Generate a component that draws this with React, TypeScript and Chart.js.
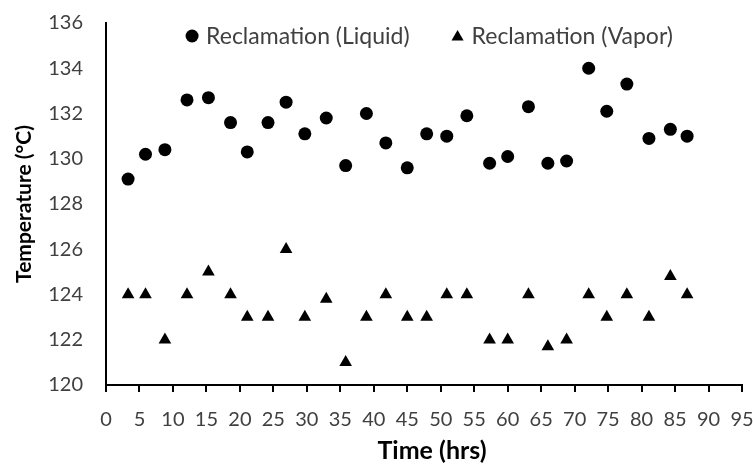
import React, { useEffect, useRef } from "react";
import { Chart, registerables } from "chart.js";

Chart.register(...registerables);

const timeHrs = [3.3, 5.9, 8.8, 12.1, 15.3, 18.6, 21.1, 24.2, 26.9, 29.7, 32.9, 35.8, 38.9, 41.8, 45.0, 47.9, 50.9, 53.9, 57.3, 60.0, 63.1, 66.0, 68.8, 72.1, 74.8, 77.8, 81.1, 84.3, 86.8];
const liquidTemp = [129.1, 130.2, 130.4, 132.6, 132.7, 131.6, 130.3, 131.6, 132.5, 131.1, 131.8, 129.7, 132.0, 130.7, 129.6, 131.1, 131.0, 131.9, 129.8, 130.1, 132.3, 129.8, 129.9, 134.0, 132.1, 133.3, 130.9, 131.3, 131.0];
const vaporTemp = [124, 124, 122, 124, 125, 124, 123, 123, 126, 123, 123.8, 121, 123, 124, 123, 123, 124, 124, 122, 122, 124, 121.7, 122, 124, 123, 124, 123, 124.8, 124];
const xTitle = "Time (hrs)";
const yTitle = "Temperature (°C)";

const FONT = "Lato, 'Open Sans', sans-serif";

function drawMarker(ctx: CanvasRenderingContext2D, style: string, cx: number, cy: number) {
  ctx.beginPath();
  if (style === "triangle") {
    const r = 7;
    ctx.moveTo(cx, cy - r);
    ctx.lineTo(cx + r * 0.866, cy + r / 2);
    ctx.lineTo(cx - r * 0.866, cy + r / 2);
    ctx.closePath();
  } else {
    ctx.arc(cx, cy, 6.5, 0, Math.PI * 2);
  }
  ctx.fill();
}

const overlayText = {
  id: "overlayText",
  afterDraw(chart: any) {
    const { ctx, chartArea } = chart;
    ctx.save();
    // legend inside plot area
    ctx.font = `23px ${FONT}`;
    ctx.textBaseline = "middle";
    const textOff = 14;
    const spacing = 48;
    const items = chart.data.datasets.map((ds: any) => ({
      label: ds.label as string,
      style: ds.pointStyle as string,
      tw: ctx.measureText(ds.label).width,
    }));
    let total = 7;
    items.forEach((it: any, i: number) => {
      total += textOff + it.tw + (i < items.length - 1 ? spacing : 0);
    });
    let x = (chartArea.left + chartArea.right) / 2 + 5 - total / 2 + 7;
    const y = chartArea.top + 13;
    for (const it of items) {
      ctx.fillStyle = "#000";
      drawMarker(ctx, it.style, x, y + (it.style === "triangle" ? 1 : 0));
      ctx.fillStyle = "#404040";
      ctx.textAlign = "left";
      ctx.fillText(it.label, x + textOff, y + 1);
      x += textOff + it.tw + spacing;
    }
    // x-axis title
    ctx.font = `bold 25px ${FONT}`;
    ctx.fillStyle = "#000";
    ctx.textAlign = "center";
    ctx.textBaseline = "middle";
    ctx.fillText(xTitle, (chartArea.left + chartArea.right) / 2 + 8, 451);
    ctx.restore();
  },
};

export default function App() {
  const ref = useRef<HTMLCanvasElement | null>(null);
  useEffect(() => {
    if (!ref.current) return;
    const chart = new Chart(ref.current, {
      type: "scatter",
      data: {
        datasets: [
          {
            label: "Reclamation (Liquid)",
            data: timeHrs.map((t, i) => ({ x: t, y: liquidTemp[i] })),
            pointStyle: "circle",
            pointRadius: 6.5,
            backgroundColor: "#000",
            borderColor: "#000",
            borderWidth: 0,
          },
          {
            label: "Reclamation (Vapor)",
            data: timeHrs.map((t, i) => ({ x: t, y: vaporTemp[i] })),
            pointStyle: "triangle",
            pointRadius: 7.3,
            backgroundColor: "#000",
            borderColor: "#000",
            borderWidth: 0,
          },
        ],
      },
      options: {
        responsive: false,
        animation: false,
        layout: { padding: { left: 0, right: 11, top: 23, bottom: 0 } },
        plugins: {
          tooltip: { enabled: false },
          legend: { display: false },
        },
        scales: {
          x: {
            type: "linear",
            min: 0,
            max: 95,
            afterFit: (s: any) => { s.height = 80; s.paddingLeft = 0; s.paddingRight = 0; },
            border: { display: true, color: "#000", width: 2 },
            grid: { drawOnChartArea: false, drawTicks: true, tickLength: 7, color: "#000", lineWidth: 2 },
            ticks: { stepSize: 5, color: "#404040", font: { family: FONT, size: 20 }, padding: 16, maxRotation: 0, autoSkip: false },
          },
          y: {
            type: "linear",
            min: 120,
            max: 136,
            afterFit: (s: any) => { s.width = 106; s.paddingTop = 0; s.paddingBottom = 0; },
            border: { display: true, color: "#000", width: 2 },
            grid: { drawOnChartArea: false, drawTicks: false, tickLength: 0 },
            ticks: { stepSize: 2, color: "#404040", font: { family: FONT, size: 20 }, padding: 23 },
            title: { display: true, text: yTitle, color: "#000", font: { family: FONT, size: 21, weight: "bold" }, padding: { top: 12, bottom: 4 } },
          },
        },
      },
      plugins: [overlayText],
    });
    return () => chart.destroy();
  }, []);
  return (
    <div style={{ position: "fixed", left: 0, top: 0, width: 753, height: 465, background: "#fff" }}>
      <canvas ref={ref} width={753} height={465} style={{ display: "block", width: 753, height: 465 }} />
    </div>
  );
}
